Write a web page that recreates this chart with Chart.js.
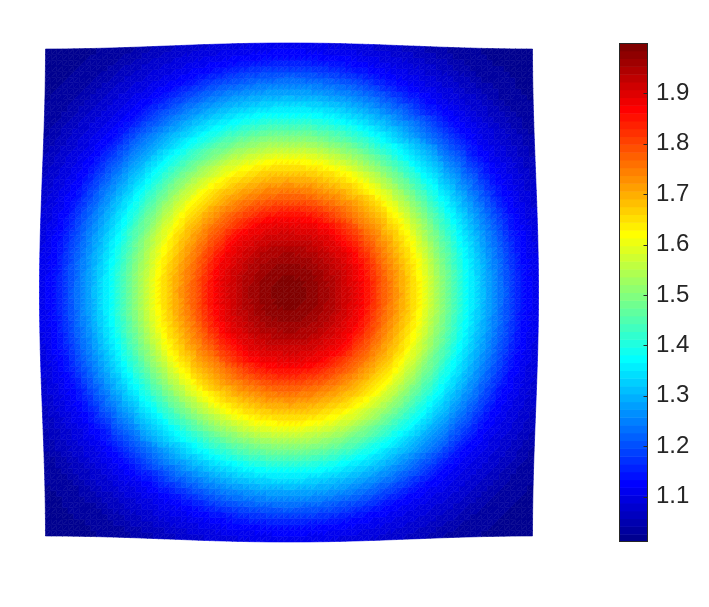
<!DOCTYPE html>
<html lang="en">
<head>
<meta charset="UTF-8">
<title>Surface with colorbar</title>
<script src="https://cdn.jsdelivr.net/npm/chart.js"></script>
<style>
  body { margin: 0; background: #fff; width: 709px; height: 607px; position: relative; overflow: hidden; }
  #surface { position: absolute; left: 34px; top: 37px; }
  #colorbar { position: absolute; left: 619px; top: 43px; }
</style>
</head>
<body>
<canvas id="surface" width="510" height="511"></canvas>
<canvas id="colorbar" width="91" height="499"></canvas>
<script>
// radial profile: distance from the centre (axis units) -> value
const profileRadius = [0, 0.10, 0.18, 0.30, 0.41, 0.53, 0.72, 0.95, 1.02, 1.20, 1.42];
const profileValue  = [2.0, 1.978, 1.945, 1.876, 1.753, 1.629, 1.382, 1.135, 1.10, 1.03, 1.011];

// colorbar
const cbTicks = [1.1, 1.2, 1.3, 1.4, 1.5, 1.6, 1.7, 1.8, 1.9];
const cMin = 1.01;
const cMax = 2.0;
const nColors = 64;

// mesh
const gridCount = 86;
const edgeWave = 0.0122;   // how far the sides of the mesh bow in/out

function jet(t) {
  const c = v => Math.max(0, Math.min(1, v));
  const r = c(1.5 - Math.abs(4 * t - 3));
  const g = c(1.5 - Math.abs(4 * t - 2));
  const b = c(1.5 - Math.abs(4 * t - 1));
  return `rgb(${Math.round(r * 255)},${Math.round(g * 255)},${Math.round(b * 255)})`;
}
const palette = [];
for (let k = 1; k <= nColors; k++) palette.push(jet(k / nColors));

function colorFor(v) {
  let k = Math.floor((v - cMin) / (cMax - cMin) * nColors);
  k = Math.max(0, Math.min(nColors - 1, k));
  return palette[k];
}

function profileAt(r) {
  for (let i = 1; i < profileRadius.length; i++) {
    if (r <= profileRadius[i]) {
      const f = (r - profileRadius[i - 1]) / (profileRadius[i] - profileRadius[i - 1]);
      return profileValue[i - 1] + f * (profileValue[i] - profileValue[i - 1]);
    }
  }
  return profileValue[profileValue.length - 1];
}

// mesh nodes
const nodes = [];
for (let j = 0; j <= gridCount; j++) {
  const row = [];
  for (let i = 0; i <= gridCount; i++) {
    const u = -1 + 2 * i / gridCount;
    const w = -1 + 2 * j / gridCount;
    const X = u * (1 + edgeWave * Math.cos(Math.PI * w));
    const Y = w * (1 + edgeWave * Math.cos(Math.PI * u));
    row.push({ x: X, y: Y, v: profileAt(Math.hypot(X, Y)) });
  }
  nodes.push(row);
}

const meshPlugin = {
  id: 'mesh',
  beforeDatasetsDraw(chart) {
    const { ctx } = chart;
    const xs = chart.scales.x, ys = chart.scales.y;
    const px = n => [xs.getPixelForValue(n.x), ys.getPixelForValue(n.y)];
    ctx.save();
    ctx.lineWidth = 0.6;
    ctx.lineJoin = 'round';
    const tri = (a, b, c) => {
      const col = colorFor((a.v + b.v + c.v) / 3);
      const pa = px(a), pb = px(b), pc = px(c);
      ctx.beginPath();
      ctx.moveTo(pa[0], pa[1]);
      ctx.lineTo(pb[0], pb[1]);
      ctx.lineTo(pc[0], pc[1]);
      ctx.closePath();
      ctx.fillStyle = col;
      ctx.strokeStyle = col;
      ctx.fill();
      ctx.stroke();
    };
    for (let j = 0; j < gridCount; j++) {
      for (let i = 0; i < gridCount; i++) {
        const a = nodes[j][i], b = nodes[j][i + 1], c = nodes[j + 1][i + 1], d = nodes[j + 1][i];
        tri(a, b, c);
        tri(a, c, d);
      }
    }
    ctx.restore();
  }
};

new Chart(document.getElementById('surface'), {
  type: 'scatter',
  data: { datasets: [{ data: [] }] },
  options: {
    responsive: false,
    animation: false,
    events: [],
    layout: { padding: 0 },
    plugins: { legend: { display: false }, tooltip: { enabled: false } },
    scales: {
      x: { type: 'linear', display: false, min: -1.0345, max: 1.0345 },
      y: { type: 'linear', display: false, min: -1.0365, max: 1.0365 }
    }
  },
  plugins: [meshPlugin]
});

const colorbarPlugin = {
  id: 'colorbarFill',
  beforeDatasetsDraw(chart) {
    const { ctx, chartArea: a } = chart;
    const ys = chart.scales.y;
    ctx.save();
    for (let k = 0; k < nColors; k++) {
      const v0 = cMin + (cMax - cMin) * k / nColors;
      const v1 = cMin + (cMax - cMin) * (k + 1) / nColors;
      const y0 = ys.getPixelForValue(v0), y1 = ys.getPixelForValue(v1);
      ctx.fillStyle = palette[k];
      ctx.fillRect(a.left, y1, a.right - a.left, y0 - y1 + 0.5);
    }
    ctx.strokeStyle = '#262626';
    ctx.lineWidth = 1;
    ctx.strokeRect(a.left + 0.5, a.top + 0.5, a.right - a.left - 1, a.bottom - a.top - 1);
    ctx.beginPath();
    cbTicks.forEach(v => {
      const y = Math.round(ys.getPixelForValue(v)) + 0.5;
      ctx.moveTo(a.right - 0.5, y);
      ctx.lineTo(a.right - 4.5, y);
    });
    ctx.stroke();
    ctx.restore();
  }
};

new Chart(document.getElementById('colorbar'), {
  type: 'scatter',
  data: { datasets: [{ data: [] }] },
  options: {
    responsive: false,
    animation: false,
    events: [],
    layout: { padding: 0 },
    plugins: { legend: { display: false }, tooltip: { enabled: false } },
    scales: {
      x: { type: 'linear', display: false, min: 0, max: 1 },
      y: {
        type: 'linear',
        position: 'right',
        min: cMin,
        max: cMax,
        afterBuildTicks: s => { s.ticks = cbTicks.map(v => ({ value: v })); },
        afterFit: s => { s.width = 62; s.paddingTop = 0; s.paddingBottom = 0; },
        grid: { display: false, drawTicks: false },
        border: { display: false },
        ticks: {
          padding: 8,
          color: '#262626',
          font: { family: '"Liberation Sans", Arial, sans-serif', size: 24 },
          callback: v => v.toFixed(1)
        }
      }
    }
  },
  plugins: [colorbarPlugin]
});
</script>
</body>
</html>
